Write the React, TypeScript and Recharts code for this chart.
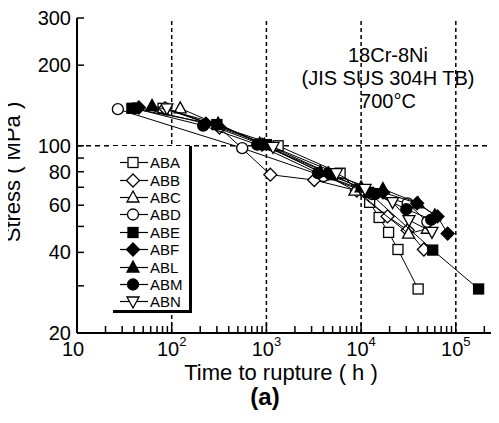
import { ScatterChart, Scatter, XAxis, YAxis, ReferenceLine, Legend } from "recharts"

// rupture data: [time to rupture (h), stress (MPa)]
const ABA: [number, number][] = [[81, 138], [1330, 100], [6000, 79], [12300, 61.5], [15500, 54], [19500, 47.5], [24500, 41], [40000, 29.2]]
const ABB: [number, number][] = [[85, 138], [320, 117], [1100, 78], [3200, 74.5], [9000, 68], [19000, 54.5], [31000, 48.4], [46000, 41]]
const ABC: [number, number][] = [[123, 138], [950, 101], [4200, 78], [8600, 68], [31700, 47], [50000, 49]]
const ABD: [number, number][] = [[27, 137], [555, 98], [4000, 77], [13000, 66], [31000, 61], [50000, 52]]
const ABE: [number, number][] = [[38, 138], [300, 120], [1000, 101], [5000, 78], [12000, 67], [57000, 40.8], [174000, 29.2]]
const ABF: [number, number][] = [[45, 139], [230, 121], [900, 101], [4500, 79], [17000, 67], [39000, 61], [64000, 54.5], [82000, 47]]
const ABL: [number, number][] = [[62, 141], [309, 121], [850, 102], [3700, 80], [10000, 70], [17000, 69], [40000, 61], [60000, 55]]
const ABM: [number, number][] = [[40, 138], [215, 119], [800, 101], [3500, 79], [14000, 66], [30000, 58], [55000, 53]]
const ABN: [number, number][] = [[89, 138], [1175, 99], [5500, 79], [11000, 69], [21500, 61.6], [32000, 52.8], [56000, 47.7]]

const xTicks = [10, 20, 30, 40, 50, 60, 70, 80, 90, 100, 200, 300, 400, 500, 600, 700, 800, 900, 1000, 2000, 3000, 4000, 5000, 6000, 7000, 8000, 9000, 10000, 20000, 30000, 40000, 50000, 60000, 70000, 80000, 90000, 100000, 200000, 300000]
const yTicks = [20, 30, 40, 50, 60, 70, 80, 90, 100, 200, 300]
const yLabels = [20, 40, 60, 80, 100, 200, 300]
const gridX = [100, 1000, 10000, 100000]

type Kind = "square" | "diamond" | "triangle" | "circle" | "triangleDown"

const series: { name: string; pts: [number, number][]; kind: Kind; filled: boolean }[] = [
  { name: "ABA", pts: ABA, kind: "square", filled: false },
  { name: "ABB", pts: ABB, kind: "diamond", filled: false },
  { name: "ABC", pts: ABC, kind: "triangle", filled: false },
  { name: "ABD", pts: ABD, kind: "circle", filled: false },
  { name: "ABE", pts: ABE, kind: "square", filled: true },
  { name: "ABF", pts: ABF, kind: "diamond", filled: true },
  { name: "ABL", pts: ABL, kind: "triangle", filled: true },
  { name: "ABM", pts: ABM, kind: "circle", filled: true },
  { name: "ABN", pts: ABN, kind: "triangleDown", filled: false },
]

const FONT = "'Liberation Sans', Arial, sans-serif"

function Mark({ kind, filled, cx, cy }: { kind: Kind; filled: boolean; cx: number; cy: number }) {
  const fill = filled ? "#000" : "#fff"
  const sp = { fill, stroke: "#000", strokeWidth: 1.3 }
  if (kind === "square") return <rect x={cx - 5} y={cy - 5} width={10} height={10} {...sp} />
  if (kind === "circle") return <circle cx={cx} cy={cy} r={5.5} {...sp} />
  if (kind === "diamond")
    return <polygon points={`${cx},${cy - 6.5} ${cx + 6.5},${cy} ${cx},${cy + 6.5} ${cx - 6.5},${cy}`} {...sp} />
  if (kind === "triangle")
    return <polygon points={`${cx},${cy - 6.5} ${cx + 6},${cy + 4.5} ${cx - 6},${cy + 4.5}`} {...sp} />
  return <polygon points={`${cx},${cy + 6.5} ${cx + 6},${cy - 4.5} ${cx - 6},${cy - 4.5}`} {...sp} />
}

const isDecade = (v: number) => Math.abs(Math.log10(v) - Math.round(Math.log10(v))) < 1e-6

function BottomTick({ x, y, payload }: any) {
  const v = payload.value
  const major = isDecade(v)
  const e = Math.round(Math.log10(v))
  return (
    <g>
      <line x1={x} x2={x} y1={y} y2={y - (major ? 10 : 7)} stroke="#000" strokeWidth={1.5} />
      {major && (
        <text x={e === 1 ? x - 4 : x} y={y + 23} textAnchor="middle" fontSize={20} fontFamily={FONT} fill="#000">
          10
          {e > 1 && (
            <tspan dy={-10} fontSize={13}>
              {e}
            </tspan>
          )}
        </text>
      )}
    </g>
  )
}

function TopTick({ x, y, payload }: any) {
  const major = isDecade(payload.value)
  return <line x1={x} x2={x} y1={y} y2={y + (major ? 10 : 7)} stroke="#000" strokeWidth={1.5} />
}

function LeftTick({ x, y, payload }: any) {
  const v = payload.value
  return (
    <g>
      <line x1={x} x2={x + 7} y1={y} y2={y} stroke="#000" strokeWidth={1.5} />
      {yLabels.includes(v) && (
        <text x={x - 6} y={y + 7} textAnchor="end" fontSize={20} fontFamily={FONT} fill="#000">
          {v}
        </text>
      )}
    </g>
  )
}

function RightTick({ x, y }: any) {
  return <line x1={x} x2={x - 7} y1={y} y2={y} stroke="#000" strokeWidth={1.5} />
}

function LegendBox() {
  return (
    <div
      style={{
        position: "relative",
        width: 79,
        height: 167,
        boxSizing: "border-box",
        background: "#fff",
        borderRight: "3px solid #000",
        borderBottom: "3px solid #000",
        fontFamily: FONT,
      }}
    >
      {series.map((s, i) => (
        <div
          key={s.name}
          style={{ position: "absolute", left: 0, top: 8 + i * 17.4, height: 17.4, display: "flex", alignItems: "center" }}
        >
          <svg width={36} height={17} style={{ display: "block" }}>
            <line x1={7} x2={35} y1={8.5} y2={8.5} stroke="#000" strokeWidth={1.2} />
            <Mark kind={s.kind} filled={s.filled} cx={20} cy={8.5} />
          </svg>
          <span style={{ fontSize: 15, lineHeight: "17px", marginLeft: 1, color: "#000" }}>{s.name}</span>
        </div>
      ))}
    </div>
  )
}

export default function App() {
  return (
    <div style={{ position: "relative", width: 491, height: 415, fontFamily: FONT }}>
      <div style={{ width: 491, height: 415, overflow: "hidden" }}>
        <ScatterChart width={497} height={415} margin={{ top: 10, right: 4, bottom: 0, left: 0 }}>
          <XAxis
            xAxisId="x"
            dataKey="t"
            type="number"
            scale="log"
            domain={[10, 300000]}
            allowDataOverflow
            ticks={xTicks}
            interval={0}
            tick={<BottomTick />}
            tickLine={false}
            tickSize={0}
            tickMargin={0}
            height={90}
            axisLine={{ stroke: "#000", strokeWidth: 2 }}
          />
          <XAxis
            xAxisId="xt"
            orientation="top"
            type="number"
            scale="log"
            domain={[10, 300000]}
            allowDataOverflow
            ticks={xTicks}
            interval={0}
            tick={<TopTick />}
            tickLine={false}
            tickSize={0}
            tickMargin={0}
            height={0}
            axisLine={{ stroke: "#000", strokeWidth: 2 }}
          />
          <YAxis
            yAxisId="y"
            dataKey="s"
            type="number"
            scale="log"
            domain={[20, 300]}
            allowDataOverflow
            ticks={yTicks}
            interval={0}
            tick={<LeftTick />}
            tickLine={false}
            tickSize={0}
            tickMargin={0}
            width={69}
            axisLine={{ stroke: "#000", strokeWidth: 2 }}
          />
          <YAxis
            yAxisId="yr"
            orientation="right"
            type="number"
            scale="log"
            domain={[20, 300]}
            allowDataOverflow
            ticks={yTicks}
            interval={0}
            tick={<RightTick />}
            tickLine={false}
            tickSize={0}
            tickMargin={0}
            width={0}
            axisLine={{ stroke: "#000", strokeWidth: 2 }}
          />
          {gridX.map((g) => (
            <ReferenceLine key={g} xAxisId="x" yAxisId="y" x={g} stroke="#000" strokeWidth={1.5} strokeDasharray="4 3" />
          ))}
          <ReferenceLine xAxisId="x" yAxisId="y" y={100} stroke="#000" strokeWidth={1.5} strokeDasharray="5 4" />
          {series.map((s) => (
            <Scatter
              key={s.name}
              name={s.name}
              xAxisId="x"
              yAxisId="y"
              data={s.pts.map(([t, v]) => ({ t, s: v }))}
              line={{ stroke: "#000", strokeWidth: 1 }}
              lineType="joint"
              isAnimationActive={false}
              shape={(p: any) => <Mark kind={s.kind} filled={s.filled} cx={p.cx} cy={p.cy} />}
            />
          ))}
          <Legend
            layout="horizontal"
            verticalAlign="middle"
            align="center"
            content={<LegendBox />}
            wrapperStyle={{ position: "absolute", left: 105, top: 138, width: 79, height: 167 }}
          />
        </ScatterChart>
      </div>
      <div
        style={{
          position: "absolute",
          left: 5,
          top: 164,
          transform: "translate(-50%, -50%) rotate(-90deg)",
          fontSize: 22,
          whiteSpace: "nowrap",
          lineHeight: "24px",
        }}
      >
        Stress ( MPa )
      </div>
      <div
        style={{
          position: "absolute",
          left: 273,
          top: 365,
          transform: "translate(-50%, -50%)",
          fontSize: 22,
          whiteSpace: "nowrap",
          lineHeight: "24px",
        }}
      >
        Time to rupture ( h )
      </div>
      <div
        style={{
          position: "absolute",
          left: 257,
          top: 389,
          transform: "translate(-50%, -50%)",
          fontSize: 24,
          fontWeight: "bold",
          whiteSpace: "nowrap",
          lineHeight: "26px",
        }}
      >
        (a)
      </div>
      <div
        style={{
          position: "absolute",
          left: 380,
          top: 70,
          transform: "translate(-50%, -50%)",
          fontSize: 20,
          lineHeight: "23px",
          textAlign: "center",
          whiteSpace: "nowrap",
        }}
      >
        18Cr-8Ni
        <br />
        (JIS SUS 304H TB)
        <br />
        700°C
      </div>
    </div>
  )
}
